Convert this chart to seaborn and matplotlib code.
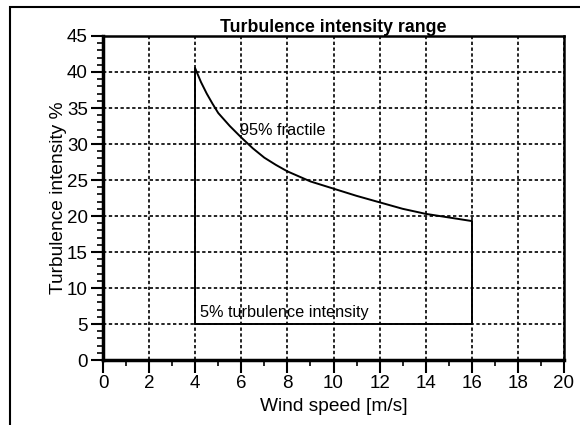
import numpy as np
import pandas as pd
import matplotlib
matplotlib.use("Agg")
import matplotlib.pyplot as plt
import seaborn as sns
from matplotlib.ticker import MultipleLocator
from matplotlib.patches import Rectangle

# data
wind_speed = [4, 4.25, 4.5, 4.75, 5, 5.5, 6, 6.5, 7, 7.5, 8, 8.5, 9, 9.5,
              10, 11, 12, 13, 14, 15, 16]
ti_95 = [40.5, 38.6, 37.0, 35.6, 34.3, 32.5, 30.9, 29.4, 28.1, 27.1, 26.2, 25.5,
         24.8, 24.3, 23.8, 22.8, 21.9, 21.0, 20.3, 19.8, 19.3]
ti_low = 5
v_in, v_out = 4, 16

sns.set_theme(style="white")
plt.rcParams["font.family"] = ["Liberation Sans", "DejaVu Sans"]
plt.rcParams["text.color"] = "black"

fig = plt.figure(figsize=(5.8, 4.25), dpi=100)
ax = fig.add_axes([0.1776, 0.1529, 0.9724 - 0.1776, 0.9153 - 0.1529])

# outer frame (cut off right and bottom)
fig.patches.append(Rectangle((10 / 580, -0.5), 1.5, 0.5 + 1 - 7 / 425,
                             transform=fig.transFigure, fill=False,
                             edgecolor="black", linewidth=1.5))

# 95% fractile curve
df_curve = pd.DataFrame({"v": wind_speed, "ti": ti_95})
sns.lineplot(data=df_curve, x="v", y="ti", color="black", linewidth=1.4, ax=ax)

# boundaries of the range
df_box = pd.DataFrame({
    "v": [v_in, v_in, v_out, v_out],
    "ti": [ti_95[0], ti_low, ti_low, ti_95[-1]],
})
ax.plot(df_box["v"], df_box["ti"], color="black", linewidth=1.4)

ax.text(5.95, 31.9, "95% fractile", fontsize=11.7, va="center", ha="left", color="black")
ax.text(4.2, 6.6, "5% turbulence intensity", fontsize=11.7, va="center", ha="left", color="black")

ax.set_xlim(0, 20)
ax.set_ylim(0, 45)
ax.xaxis.set_major_locator(MultipleLocator(2))
ax.xaxis.set_minor_locator(MultipleLocator(1))
ax.yaxis.set_major_locator(MultipleLocator(5))
ax.yaxis.set_minor_locator(MultipleLocator(1))

ax.grid(True, which="major", color="black", linestyle=(0, (2, 1.5)), linewidth=1.2)
ax.tick_params(axis="both", which="major", direction="out", length=9, width=1.5,
               color="black", labelsize=13.5, pad=2, labelcolor="black")
ax.tick_params(axis="both", which="minor", direction="out", length=4, width=1.2,
               color="black")
ax.tick_params(axis="x", which="both", bottom=True)
ax.tick_params(axis="y", which="both", left=True)

for side, lw in [("left", 2.5), ("bottom", 2.5), ("right", 1.8), ("top", 1.8)]:
    ax.spines[side].set_visible(True)
    ax.spines[side].set_color("black")
    ax.spines[side].set_linewidth(lw)

ax.set_xlabel("Wind speed [m/s]", fontsize=13.8, color="black", labelpad=4)
ax.set_ylabel("Turbulence intensity %", fontsize=13.8, color="black", labelpad=0)
ax.set_title("Turbulence intensity range", fontsize=12.8, fontweight="bold",
             pad=2, color="black")

fig.savefig("out.png", dpi=100)
